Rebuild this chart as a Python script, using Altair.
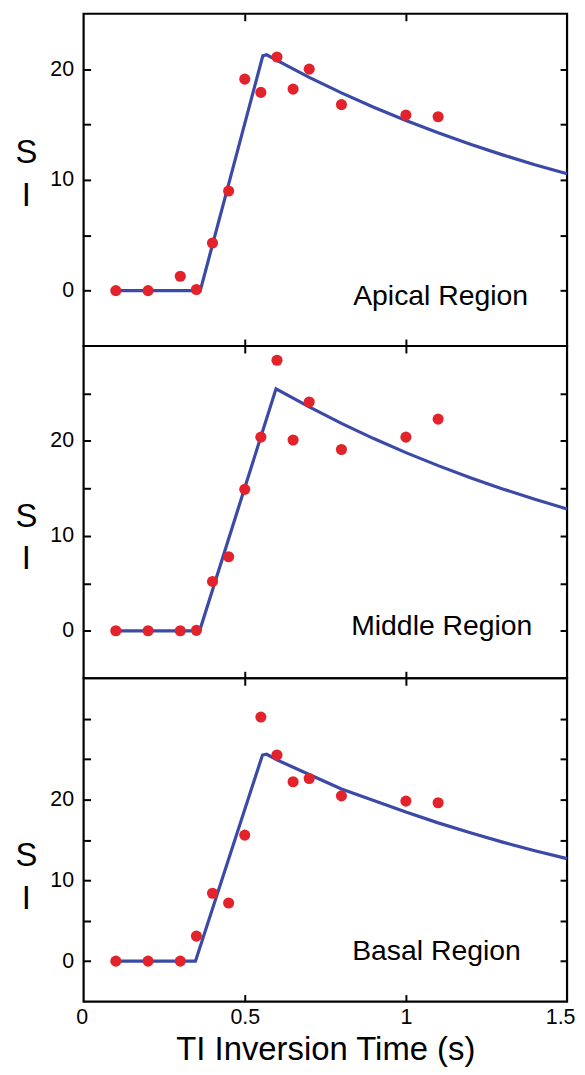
import altair as alt
import pandas as pd

# ---------------- data ----------------
ti = [0.1, 0.2, 0.3, 0.35, 0.4, 0.45, 0.5, 0.55, 0.6, 0.65, 0.7, 0.8, 1.0, 1.1]
apical_si = [0, 0, 1.3, 0.1, 4.3, 9.0, 19.1, 17.9, 21.1, 18.2, 20.0, 16.8, 15.85, 15.7]
middle_si = [0, 0, 0, 0.05, 5.2, 7.8, 14.9, 20.4, 28.5, 20.1, 24.1, 19.1, 20.4, 22.3]
basal_si = [0, 0, 0, 3.1, 8.4, 7.2, 15.6, 30.2, 25.5, 22.2, 22.6, 20.45, 19.8, 19.6]

apical_fit_t = [0.1, 0.362, 0.556, 0.568, 0.6, 0.7, 0.8, 0.9, 1.0, 1.1, 1.2, 1.3, 1.4, 1.5]
apical_fit = [0, 0, 21.2, 21.3, 20.8, 19.25, 17.86, 16.56, 15.36, 14.25, 13.22, 12.26, 11.37, 10.55]
middle_fit_t = [0.1, 0.36, 0.597, 0.7, 0.8, 0.9, 1.0, 1.1, 1.2, 1.3, 1.4, 1.5]
middle_fit = [0, 0, 25.5, 23.58, 21.85, 20.25, 18.77, 17.40, 16.13, 14.95, 13.85, 12.84]
basal_fit_t = [0.1, 0.347, 0.555, 0.568, 0.6, 0.7, 0.8, 0.9, 1.0, 1.1, 1.2, 1.3, 1.4, 1.5]
basal_fit = [0, 0, 25.5, 25.6, 24.9, 23.1, 21.3, 19.88, 18.44, 17.11, 15.88, 14.73, 13.67, 12.68]

regions = ["Apical Region", "Middle Region", "Basal Region"]
y_max = [25, 30, 35]
x_ticks = [0, 0.5, 1, 1.5]
x_inner_ticks = [0.5, 1]
x_title = "TI Inversion Time (s)"
y_title = ["S", "I"]

FONT = "Liberation Sans"
RED = "#e3232b"
BLUE = "#3a4aa6"
W = 486


def panel(idx, si, ft, fv, height, title_y, label_pos, bottom):
    pts = pd.DataFrame({"t": ti, "si": si})
    fit = pd.DataFrame({"t": ft, "si": fv})
    xs = alt.Scale(domain=[0, 1.5], nice=False, zero=False)
    ys = alt.Scale(domain=[-5, y_max[idx]], nice=False, zero=False)
    yticks = list(range(0, y_max[idx], 5))

    tick_common = dict(labels=False, ticks=True, tickSize=7, tickWidth=2,
                       tickColor="black", domain=False, grid=False, title=None)

    if bottom:
        x_main = alt.Axis(orient="bottom", values=x_ticks, ticks=False, tickSize=0,
                          domain=False, grid=False, labelFontSize=21.5, format="~g",
                          labelPadding=5, labelFlush=True, labelFlushOffset=8,
                          labelOverlap=False,
                          labelFont=FONT, labelColor="black",
                          title=x_title, titleFont=FONT, titleFontSize=33,
                          titleFontWeight="normal", titleColor="black",
                          titleBaseline="alphabetic", titleY=58)
    else:
        x_main = None

    y_main = alt.Axis(orient="left", values=yticks, ticks=False, tickSize=0,
                      domain=False, grid=False, labelFontSize=21.5,
                      labelPadding=10, labelFont=FONT, labelColor="black",
                      labelExpr="datum.value % 10 === 0 && datum.value <= 20 ? datum.label : ''",
                      labelOverlap=False,
                      title=y_title, titleAngle=0, titleX=-58, titleY=title_y,
                      titleAlign="center", titleBaseline="alphabetic",
                      titleFont=FONT, titleFontSize=33, titleFontWeight="normal",
                      titleColor="black", titleLineHeight=43)

    line = alt.Chart(fit).mark_line(color=BLUE, strokeWidth=3.2).encode(
        x=alt.X("t:Q", scale=xs, axis=x_main),
        y=alt.Y("si:Q", scale=ys, axis=y_main),
    )
    dots = alt.Chart(pts).mark_circle(color=RED, size=125, opacity=1).encode(
        x=alt.X("t:Q", scale=xs,
                axis=alt.Axis(orient="top", offset=-height, values=x_inner_ticks, **tick_common)),
        y=alt.Y("si:Q", scale=ys,
                axis=alt.Axis(orient="right", offset=-W, values=yticks, **tick_common)),
    )
    ghost = alt.Chart(fit).mark_line(opacity=0).encode(
        x=alt.X("t:Q", scale=xs,
                axis=alt.Axis(orient="bottom", offset=-height, values=x_inner_ticks, **tick_common)),
        y=alt.Y("si:Q", scale=ys,
                axis=alt.Axis(orient="left", offset=-W, values=yticks, **tick_common)),
    )
    label = alt.Chart(pd.DataFrame({"region": [regions[idx]]})).mark_text(
        font=FONT, fontSize=28.5, align="left", baseline="alphabetic", color="black"
    ).encode(
        text="region:N",
        x=alt.value(label_pos[0]),
        y=alt.value(label_pos[1]),
    )
    return (
        alt.layer(ghost, line, dots, label)
        .resolve_axis(x="independent", y="independent")
        .properties(width=W, height=height)
    )


top = panel(0, apical_si, apical_fit_t, apical_fit, 334, 150, (271, 293), False)
mid = panel(1, middle_si, middle_fit_t, middle_fit, 334, 181, (269, 291), False)
bot = panel(2, basal_si, basal_fit_t, basal_fit, 325, 188, (270, 283), True)

chart = (
    alt.vconcat(top, mid, bot, spacing=0, bounds="flush")
    .properties(padding={"left": 5, "top": 0, "right": 0, "bottom": 0},
                background="white")
    .configure_view(stroke="black", strokeWidth=2.2)
)

chart.save("out.html", embed_options={"renderer": "svg", "actions": False})
